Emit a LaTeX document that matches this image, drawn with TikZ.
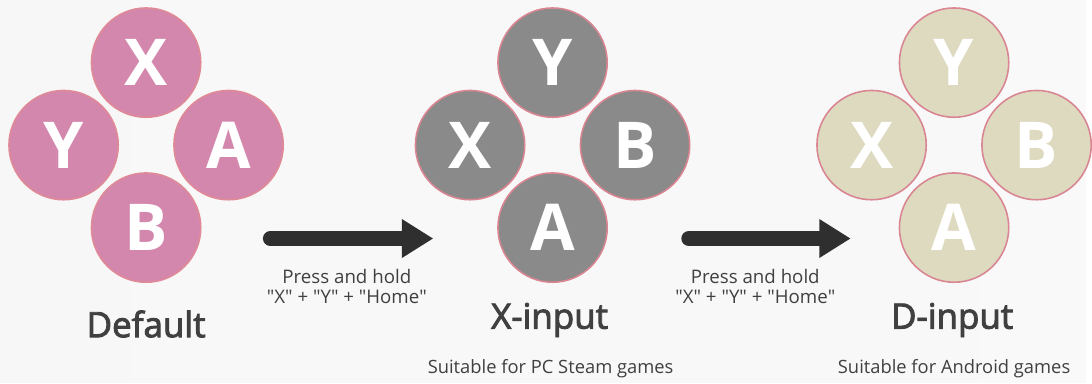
\documentclass[tikz,border=0pt]{standalone}
\usepackage{fontspec}
\setmainfont{Open Sans}
\newfontfamily\titlefont[FakeBold=2.6]{Open Sans}
\usetikzlibrary{arrows.meta, positioning}
\definecolor{PadPink}{HTML}{D487AC}
\definecolor{PadPinkEdge}{HTML}{E08A98}
\definecolor{PadGray}{HTML}{8A8A8A}
\definecolor{PadBeige}{HTML}{DEDAC0}
\definecolor{PadRim}{HTML}{D98592}
\definecolor{InkDark}{HTML}{404040}
\definecolor{ArrowInk}{HTML}{2F2F2F}
\newcommand{\qq}[1]{\textquotedbl#1\textquotedbl}
\tikzset{
  padbtn/.style={circle, minimum size=2.2cm, inner sep=0pt, line width=0.9pt,
    text=white, font=\fontsize{37}{40}\selectfont\bfseries},
  pusharrow/.style={ArrowInk, line width=8.5pt, line cap=round,
    -{Triangle[length=18pt, width=21pt]}},
  hint/.style={align=center, text=InkDark, font=\fontsize{10.7}{11.5}\selectfont},
  modetitle/.style={text=InkDark, font=\titlefont\fontsize{20}{24}\selectfont},
  modenote/.style={text=InkDark, font=\fontsize{10.5}{12}\selectfont}
}
\begin{document}
\begin{tikzpicture}[x=0.02cm, y=-0.02cm]

    % Background
    \shade[left color=gray!6, middle color=white, right color=gray!5] (0,0) rectangle (1092,385);

    % Default layout
    \foreach \lbl/\dx/\dy in {X/0/-83, Y/-83/0, A/83/0, B/0/83}
        \node[padbtn, fill=PadPink, draw=PadPinkEdge] (def\lbl) at ({147+\dx},{146+\dy}) {\lbl};
    \node[modetitle] (defTitle) at (147,326) {Default};

    % X-input layout
    \foreach \lbl/\dx/\dy in {Y/0/-83, X/-83/0, B/83/0, A/0/83}
        \node[padbtn, fill=PadGray, draw=PadRim] (xin\lbl) at ({556+\dx},{146+\dy}) {\lbl};
    \node[modetitle] (xinTitle) at (553,322) {X-input};
    \node[modenote] (xinNote) at (554,371) {Suitable for PC Steam games};

    % D-input layout
    \foreach \lbl/\dx/\dy in {Y/0/-83, X/-83/0, B/83/0, A/0/83}
        \node[padbtn, fill=PadBeige, draw=PadRim] (din\lbl) at ({960+\dx},{146+\dy}) {\lbl};
    \node[modetitle] (dinTitle) at (958,322) {D-input};
    \node[modenote] (dinNote) at (960,371) {Suitable for Android games};

    % Switch arrows
    \coordinate (sw1s) at (272,240);
    \coordinate (sw1e) at (436,240);
    \draw[pusharrow] (sw1s) -- (sw1e);
    \node[hint] (sw1Hint) at (349,288) {Press and hold\\\qq{X} + \qq{Y} + \qq{Home}};

    \coordinate (sw2s) at (693,240);
    \coordinate (sw2e) at (856,240);
    \draw[pusharrow] (sw2s) -- (sw2e);
    \node[hint] (sw2Hint) at (760,288) {Press and hold\\\qq{X} + \qq{Y} + \qq{Home}};

\end{tikzpicture}
\end{document}
